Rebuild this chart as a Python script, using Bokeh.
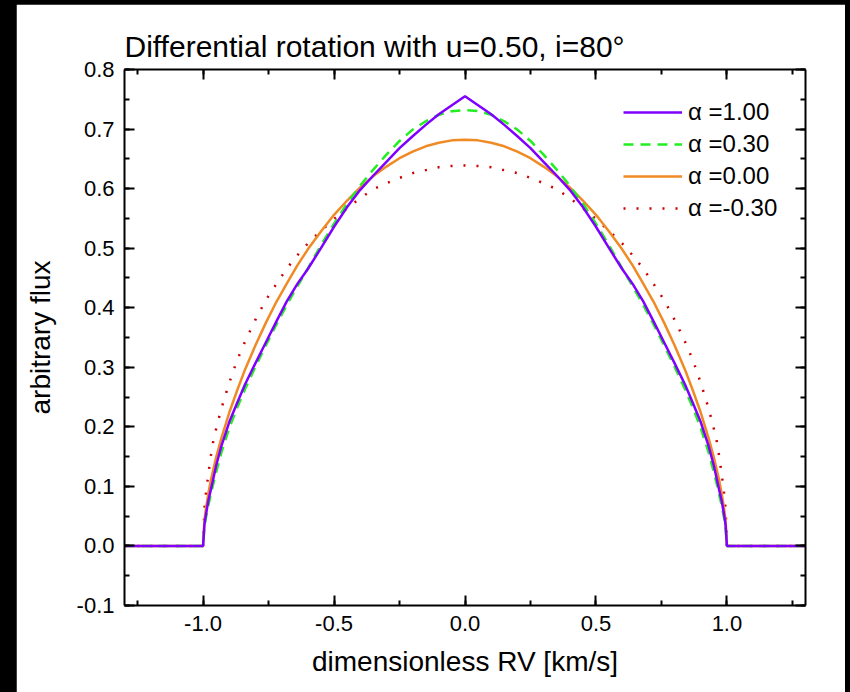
from bokeh.plotting import figure
from bokeh.models import (Range1d, LinearAxis, SingleIntervalTicker,
                          NumeralTickFormatter, Legend, LegendItem)
from bokeh.layouts import column
from bokeh.embed import file_html
from bokeh.resources import INLINE

# ---------------- data ----------------
rv = [-1.3, -1.0, -0.995, -0.99, -0.98, -0.97, -0.96, -0.95, -0.93, -0.9,
      -0.87, -0.84, -0.8, -0.76, -0.72, -0.68, -0.64, -0.6, -0.55, -0.5,
      -0.45, -0.4, -0.35, -0.3, -0.25, -0.2, -0.15, -0.1, -0.05, 0.0,
      0.05, 0.1, 0.15, 0.2, 0.25, 0.3, 0.35, 0.4, 0.45, 0.5,
      0.55, 0.6, 0.64, 0.68, 0.72, 0.76, 0.8, 0.84, 0.87, 0.9,
      0.93, 0.95, 0.96, 0.97, 0.98, 0.99, 0.995, 1.0, 1.3]

flux_a100 = [0, 0, 0.035, 0.050, 0.076, 0.095, 0.115, 0.135, 0.168, 0.208,
             0.240, 0.271, 0.307, 0.342, 0.377, 0.411, 0.440, 0.465, 0.500, 0.536,
             0.569, 0.598, 0.622, 0.645, 0.668, 0.688, 0.707, 0.725, 0.740, 0.755,
             0.740, 0.725, 0.707, 0.688, 0.668, 0.645, 0.622, 0.598, 0.569, 0.536,
             0.500, 0.465, 0.440, 0.411, 0.377, 0.342, 0.307, 0.271, 0.240, 0.208,
             0.168, 0.135, 0.115, 0.095, 0.076, 0.050, 0.035, 0, 0]

flux_a030 = [0, 0, 0.030, 0.045, 0.068, 0.087, 0.106, 0.124, 0.157, 0.198,
             0.232, 0.263, 0.301, 0.337, 0.372, 0.405, 0.436, 0.466, 0.505, 0.541,
             0.575, 0.605, 0.632, 0.657, 0.680, 0.699, 0.713, 0.724, 0.730, 0.732,
             0.730, 0.724, 0.713, 0.699, 0.680, 0.657, 0.632, 0.605, 0.575, 0.541,
             0.505, 0.466, 0.436, 0.405, 0.372, 0.337, 0.301, 0.263, 0.232, 0.198,
             0.157, 0.124, 0.106, 0.087, 0.068, 0.045, 0.030, 0, 0]

flux_a000 = [0, 0, 0.041, 0.060, 0.088, 0.111, 0.130, 0.149, 0.181, 0.224,
             0.261, 0.296, 0.337, 0.375, 0.410, 0.441, 0.471, 0.498, 0.528, 0.556,
             0.580, 0.602, 0.621, 0.637, 0.651, 0.662, 0.671, 0.677, 0.681, 0.682,
             0.681, 0.677, 0.671, 0.662, 0.651, 0.637, 0.621, 0.602, 0.580, 0.556,
             0.528, 0.498, 0.471, 0.441, 0.410, 0.375, 0.337, 0.296, 0.261, 0.224,
             0.181, 0.149, 0.130, 0.111, 0.088, 0.060, 0.041, 0, 0]

flux_am030 = [0, 0, 0.062, 0.085, 0.120, 0.152, 0.179, 0.197, 0.231, 0.274,
              0.312, 0.343, 0.380, 0.413, 0.440, 0.466, 0.488, 0.508, 0.529, 0.549,
              0.567, 0.584, 0.599, 0.609, 0.618, 0.626, 0.631, 0.636, 0.638, 0.639,
              0.638, 0.636, 0.631, 0.626, 0.618, 0.609, 0.599, 0.584, 0.567, 0.549,
              0.529, 0.508, 0.488, 0.466, 0.440, 0.413, 0.380, 0.343, 0.312, 0.274,
              0.231, 0.197, 0.179, 0.152, 0.120, 0.085, 0.062, 0, 0]

labels = ["\u03b1 =1.00", "\u03b1 =0.30", "\u03b1 =0.00", "\u03b1 =-0.30"]
title_text = "Differential rotation with u=0.50, i=80\u00b0"
x_label = "dimensionless RV [km/s]"
y_label = "arbitrary flux"

FONT = "Liberation Sans"

# ---------------- figure ----------------
p = figure(width=829, height=688,
           x_range=Range1d(-1.3, 1.3), y_range=Range1d(-0.1, 0.8),
           output_backend="svg", toolbar_location=None,
           min_border_left=108, min_border_right=40,
           min_border_top=65, min_border_bottom=87,
           x_axis_label=x_label, y_axis_label=y_label,
           title=title_text)
p.margin = (4, 5, 0, 16)
p.grid.visible = False
p.outline_line_color = None
p.background_fill_color = "white"
p.border_fill_color = "white"

p.title.text_font = FONT
p.title.text_font_size = "30px"
p.title.text_font_style = "normal"
p.title.text_color = "black"
p.title.align = "left"
p.title.standoff = 14

def style_axis(ax, show_labels):
    ax.axis_line_color = "black"
    ax.axis_line_width = 2
    ax.major_tick_line_color = "black"
    ax.minor_tick_line_color = "black"
    ax.major_tick_line_width = 2
    ax.minor_tick_line_width = 2
    ax.major_tick_in = 10
    ax.major_tick_out = 0
    ax.minor_tick_in = 5
    ax.minor_tick_out = 0
    ax.major_label_text_font = FONT
    ax.major_label_text_font_size = "22px"
    ax.major_label_text_color = "black" if show_labels else None
    ax.major_label_standoff = 10
    ax.axis_label_text_font = FONT
    ax.axis_label_text_font_size = "28px"
    ax.axis_label_text_font_style = "normal"
    ax.axis_label_text_color = "black"

xt = SingleIntervalTicker(interval=0.5, num_minor_ticks=2)
yt = SingleIntervalTicker(interval=0.1, num_minor_ticks=2)

p.xaxis[0].ticker = xt
p.yaxis[0].ticker = yt
p.xaxis[0].formatter = NumeralTickFormatter(format="0.0")
p.yaxis[0].formatter = NumeralTickFormatter(format="0.0")
style_axis(p.xaxis[0], True)
style_axis(p.yaxis[0], True)
p.xaxis[0].axis_label_standoff = 12
p.yaxis[0].axis_label_standoff = 18

top = LinearAxis(ticker=SingleIntervalTicker(interval=0.5, num_minor_ticks=2))
right = LinearAxis(ticker=SingleIntervalTicker(interval=0.1, num_minor_ticks=2))
style_axis(top, False)
style_axis(right, False)
top.major_label_standoff = 0
right.major_label_standoff = 0
top.major_label_text_font_size = "1px"
right.major_label_text_font_size = "1px"
p.add_layout(top, "above")
p.add_layout(right, "right")

# ---------------- lines ----------------
r_red = p.line(rv, flux_am030, line_color="#cc0000", line_width=2.5,
               line_dash="2 11")
r_orange = p.line(rv, flux_a000, line_color="#f08a24", line_width=2.5)
r_green = p.line(rv, flux_a030, line_color="#22ee22", line_width=2.5,
                 line_dash="10 7")
r_purple = p.line(rv, flux_a100, line_color="#7f00ff", line_width=2.5)

legend = Legend(items=[
    LegendItem(label=labels[0], renderers=[r_purple]),
    LegendItem(label=labels[1], renderers=[r_green]),
    LegendItem(label=labels[2], renderers=[r_orange]),
    LegendItem(label=labels[3], renderers=[r_red]),
], location=(499, 383))
legend.border_line_color = None
legend.background_fill_alpha = 0
legend.padding = 0
legend.margin = 0
legend.spacing = 4
legend.glyph_width = 59
legend.glyph_height = 28
legend.label_height = 28
legend.label_standoff = 6
legend.label_text_font = FONT
legend.label_text_font_size = "24px"
legend.label_text_color = "black"
p.add_layout(legend)

layout = column(p, styles={"background-color": "black"})

open("out.html", "w").write(file_html(layout, INLINE))
